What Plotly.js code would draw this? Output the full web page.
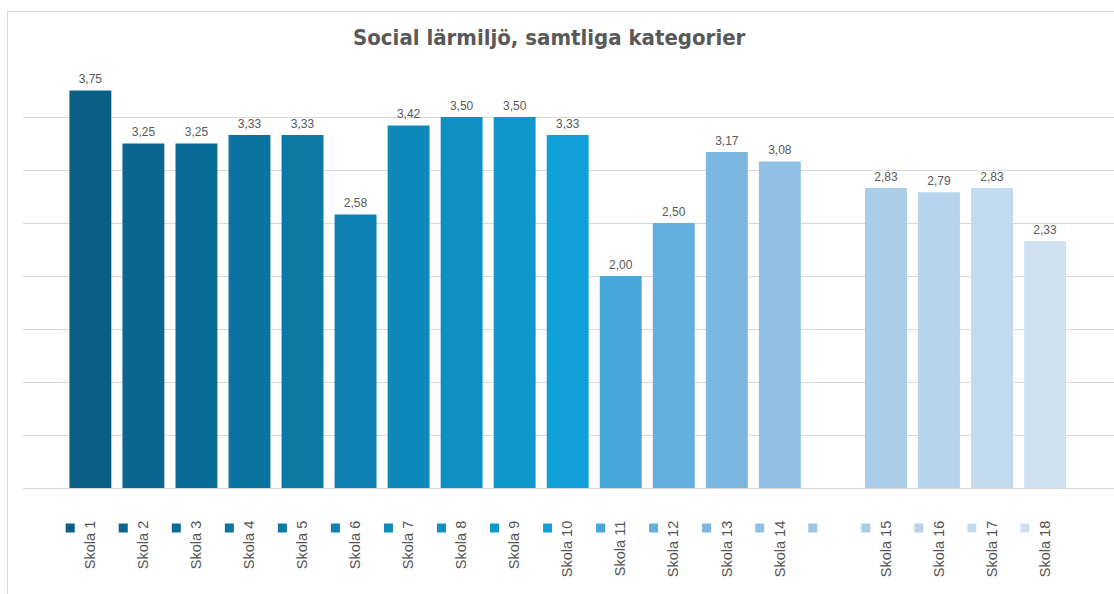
<!DOCTYPE html>
<html>
<head>
<meta charset="utf-8">
<script src="https://cdn.plot.ly/plotly-3.0.1.min.js"></script>
<style>
  html, body { margin: 0; padding: 0; background: #fff; overflow: hidden; }
  #chart { width: 1114px; height: 594px; }
  #frame { position: absolute; left: 7px; top: 11px; width: 1200px; height: 700px;
           border: 1px solid #d9d9d9; pointer-events: none; }
</style>
</head>
<body>
<div id="chart"></div>
<div id="frame"></div>
<script>
// Data
var schools = ['Skola 1', 'Skola 2', 'Skola 3', 'Skola 4', 'Skola 5', 'Skola 6', 'Skola 7',
  'Skola 8', 'Skola 9', 'Skola 10', 'Skola 11', 'Skola 12', 'Skola 13', 'Skola 14', '',
  'Skola 15', 'Skola 16', 'Skola 17', 'Skola 18'];
var values = [3.75, 3.25, 3.25, 3.33, 3.33, 2.58, 3.42, 3.50, 3.50, 3.33,
  2.00, 2.50, 3.17, 3.08, null, 2.83, 2.79, 2.83, 2.33];
var colors = ['#0a5f86', '#0a6690', '#0b6b97', '#0b739f', '#0c79a7', '#0d82b0', '#0e89ba',
  '#0e90c2', '#0f96ca', '#12a0d8', '#46a7da', '#63afdf', '#7bb7e1', '#90c0e3', '#9dc6e6',
  '#abcde8', '#b7d4ec', '#c3dbef', '#cfe1f1'];

var idx = schools.map(function (s, i) { return i; });

// legend key squares: own little axis under the bars (y2)
var keyOffset = -0.38;
var keyLevel = 66;

var bars = {
  x: idx,
  y: values,
  type: 'bar',
  marker: {color: colors},
  hoverinfo: 'x+y'
};

// value labels, a bit above the bar tops (invisible marker pushes text up)
var labels = {
  x: idx,
  y: values,
  type: 'scatter',
  mode: 'markers+text',
  marker: {size: 5, color: 'rgba(0,0,0,0)'},
  text: values.map(function (v) { return v === null ? '' : v.toFixed(2).replace('.', ','); }),
  textposition: 'top center',
  textfont: {family: 'Liberation Sans, Arial, sans-serif', size: 12, color: '#595959'},
  cliponaxis: false,
  hoverinfo: 'skip'
};

var keys = {
  x: idx.map(function (i) { return i + keyOffset; }),
  y: idx.map(function () { return keyLevel; }),
  yaxis: 'y2',
  type: 'scatter',
  mode: 'markers',
  marker: {symbol: 'square', size: 9, color: colors},
  hoverinfo: 'skip'
};

var layout = {
  width: 1114,
  height: 594,
  paper_bgcolor: '#ffffff',
  plot_bgcolor: 'rgba(0,0,0,0)',
  showlegend: false,
  separators: ', ',
  bargap: 0.21,
  margin: {l: 23, r: 0, t: 64, b: 0},
  font: {family: 'Liberation Sans, Arial, sans-serif', color: '#595959'},
  title: {
    text: '<b>Social lärmiljö, samtliga kategorier</b>',
    font: {family: 'Liberation Sans Narrow, DejaVu Sans Condensed, sans-serif', size: 22, color: '#595959'},
    xref: 'container', x: 0.493, xanchor: 'center',
    yref: 'container', y: 0.938, yanchor: 'middle'
  },
  xaxis: {
    range: [-1.27, 19.3],
    tickmode: 'array',
    tickvals: idx,
    ticktext: schools,
    tickangle: -90,
    ticks: '',
    ticklabelstandoff: 26,
    tickfont: {size: 14.5, color: '#555555'},
    showgrid: false,
    zeroline: false,
    showline: true,
    linecolor: '#d9d9d9',
    linewidth: 1,
    anchor: 'y'
  },
  yaxis: {
    domain: [0.2, 1],
    range: [0, 4],
    dtick: 0.5,
    showticklabels: false,
    ticks: '',
    showgrid: true,
    gridcolor: '#d9d9d9',
    gridwidth: 1,
    zeroline: false
  },
  yaxis2: {
    domain: [0, 0.19],
    range: [0, 100.7],
    visible: false,
    showgrid: false,
    zeroline: false
  }
};

Plotly.newPlot('chart', [bars, labels, keys], layout, {displayModeBar: false, staticPlot: true});
</script>
</body>
</html>
